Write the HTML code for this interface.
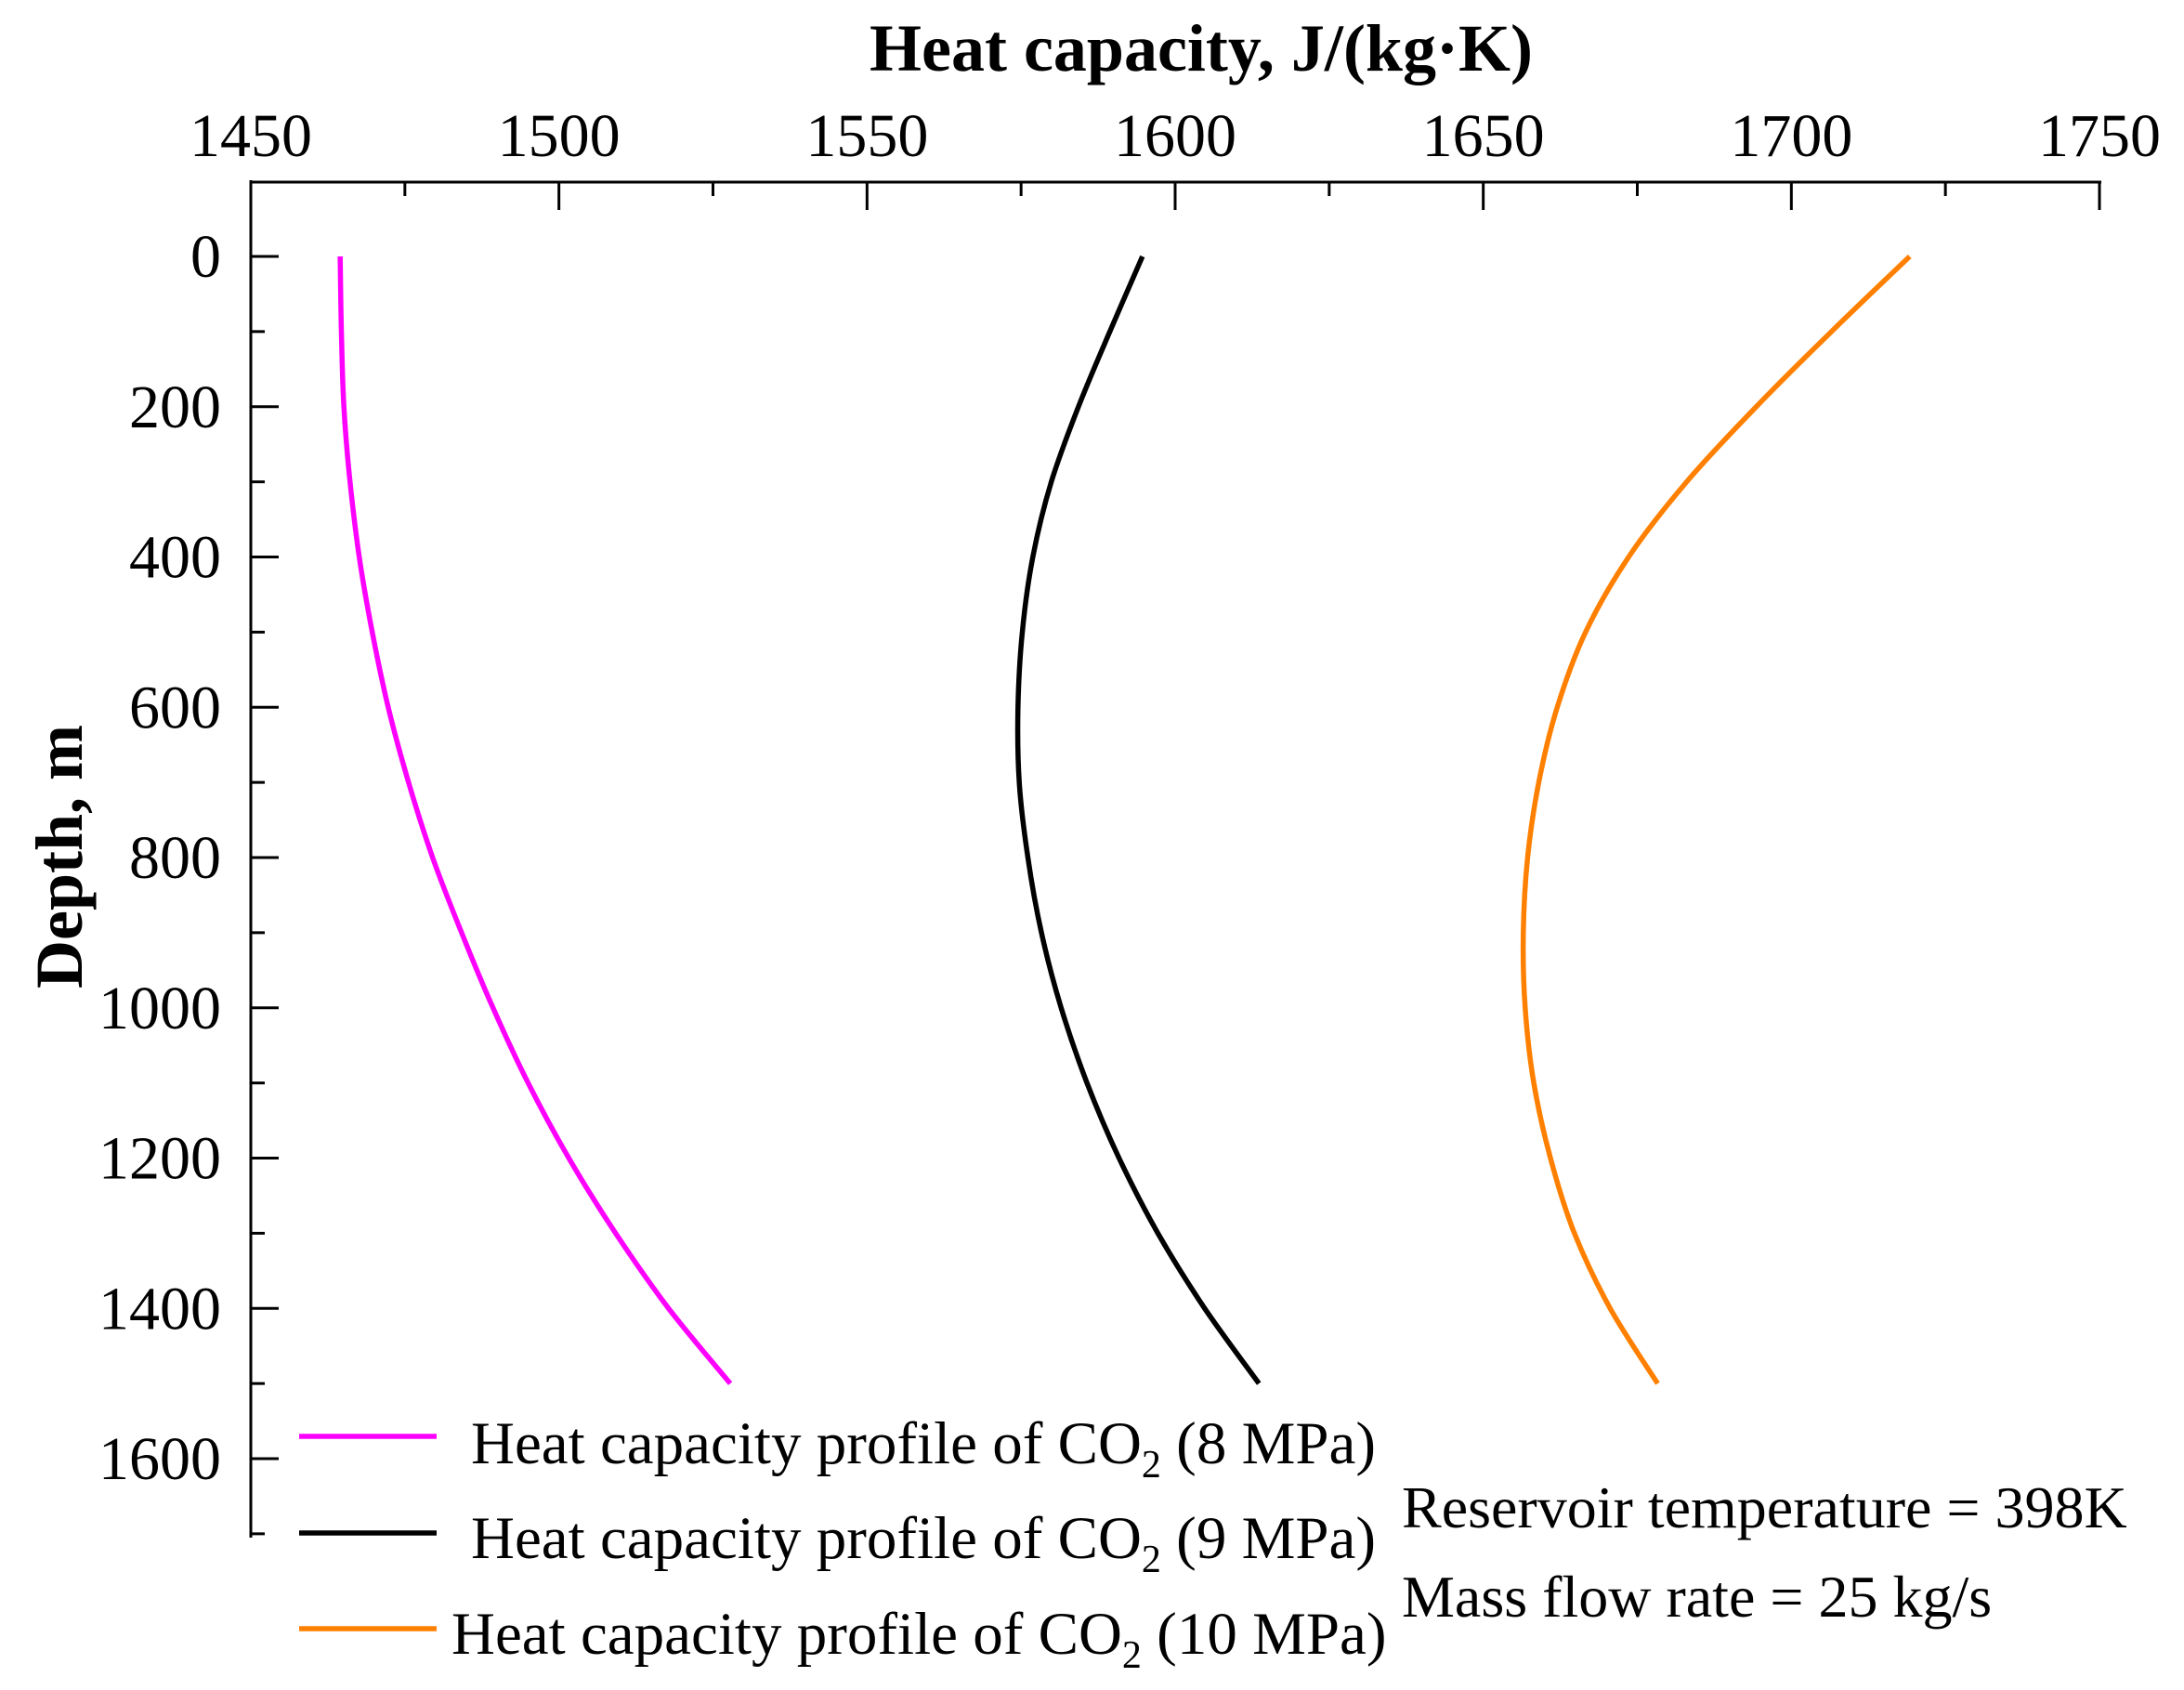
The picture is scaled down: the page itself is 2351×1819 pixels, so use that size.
<!DOCTYPE html>
<html><head><meta charset="utf-8"><style>
html,body{margin:0;padding:0;background:#fff}
svg{display:block}
text{font-family:"Liberation Serif",serif;fill:#000}
</style></head><body>
<svg id="chart" width="2351" height="1819" viewBox="0 0 2351 1819" xmlns="http://www.w3.org/2000/svg">
<g id="axes"></g>
<g id="series"></g>
<g id="legend"></g>
</svg>
<script>
const depths=[0,100,200,300,400,500,600,700,800,900,1000,1100,1200,1300,1400,1500];
const cp8=[1464.5,1464.7,1465.1,1466.1,1467.6,1469.7,1472.3,1475.6,1479.5,1484.2,1489.3,1495,1501.6,1509.2,1517.8,1527.8];
const cp9=[1594.7,1589.4,1584.3,1579.9,1576.9,1575.2,1574.5,1574.7,1576.1,1578.3,1581.5,1585.7,1590.9,1597.2,1604.8,1613.6];
const cp10=[1719.2,1706.5,1694.3,1683,1673.6,1666.6,1662,1659,1657.2,1656.5,1656.8,1658.2,1660.9,1664.8,1670.6,1678.3];
const xTicks=[1450,1500,1550,1600,1650,1700,1750];
const yTicks=[0,200,400,600,800,1000,1200,1400,1600];
const NS="http://www.w3.org/2000/svg";
const X=v=>270+(v-1450)*(1990/300);
const Y=d=>276+d*(1294/1600);
function mk(tag,attrs,parent){const e=document.createElementNS(NS,tag);for(const k in attrs)e.setAttribute(k,attrs[k]);parent.appendChild(e);return e;}
const axes=document.getElementById('axes');
const xAxisLine=mk('line',{x1:270,y1:196,x2:2262,y2:196,stroke:'#000','stroke-width':3},axes);


const yAxisLine=mk('line',{x1:270,y1:194,x2:270,y2:1655,stroke:'#000','stroke-width':3},axes);


for(let v=1450;v<=1750;v+=25){const major=(v%50===0);
 const t=mk('line',{x1:X(v),y1:196,x2:X(v),y2:major?226:211,stroke:'#000','stroke-width':3},axes);
 
 }
xTicks.forEach(v=>{const t=mk('text',{x:X(v),y:168,'font-size':66,'text-anchor':'middle'},axes);t.textContent=v;
 
 });
for(let d=0;d<=1700;d+=100){const major=(d%200===0);
 const t=mk('line',{x1:270,y1:Y(d),x2:major?300:285,y2:Y(d),stroke:'#000','stroke-width':3},axes);
 
 }
yTicks.forEach(d=>{const t=mk('text',{x:238,y:Y(d)+22,'font-size':66,'text-anchor':'end'},axes);t.textContent=d;
 
 });
const xt=mk('text',{x:1293,y:76,'font-size':72,'font-weight':'bold','text-anchor':'middle'},axes);xt.textContent='Heat capacity, J/(kg·K)';


const yt=mk('text',{x:0,y:0,'font-size':72,'font-weight':'bold','text-anchor':'middle',transform:'translate(88,922) rotate(-90)'},axes);yt.textContent='Depth, m';


function smooth(pts){let d='M'+pts[0][0].toFixed(1)+','+pts[0][1].toFixed(1);
 for(let i=0;i<pts.length-1;i++){const p0=pts[Math.max(i-1,0)],p1=pts[i],p2=pts[i+1],p3=pts[Math.min(i+2,pts.length-1)];
  const c1=[p1[0]+(p2[0]-p0[0])/6,p1[1]+(p2[1]-p0[1])/6],c2=[p2[0]-(p3[0]-p1[0])/6,p2[1]-(p3[1]-p1[1])/6];
  d+=' C'+c1[0].toFixed(1)+','+c1[1].toFixed(1)+' '+c2[0].toFixed(1)+','+c2[1].toFixed(1)+' '+p2[0].toFixed(1)+','+p2[1].toFixed(1);}
 return d;}
const ser=document.getElementById('series');
[[cp8,'#ff00ff','line-8mpa'],[cp9,'#000000','line-9mpa'],[cp10,'#ff8000','line-10mpa']].forEach(([vals,c,n])=>{
 const p=mk('path',{d:smooth(vals.map((v,i)=>[X(v),Y(depths[i])])),fill:'none',stroke:c,'stroke-width':5.5,'stroke-linejoin':'round'},ser);
 
 });
const lg=document.getElementById('legend');
[['#ff00ff','8 MPa',1546,1575,507],['#000000','9 MPa',1650,1677,507],['#ff8000','10 MPa',1753,1780,486]].forEach(([c,lab,ly,ty,tx])=>{
 const l=mk('line',{x1:322,y1:ly,x2:470,y2:ly,stroke:c,'stroke-width':5.5},lg);
 
 
 const t=mk('text',{x:tx,y:ty,'font-size':65},lg);
 t.innerHTML='Heat capacity profile of CO<tspan font-size="42" dy="15">2</tspan><tspan dy="-15"> ('+lab+')</tspan>';
 
 });
const a1=mk('text',{x:1509,y:1644,'font-size':64},lg);a1.textContent='Reservoir temperature = 398K';


const a2=mk('text',{x:1509,y:1740,'font-size':64},lg);a2.textContent='Mass flow rate = 25 kg/s';


</script>
</body></html>
